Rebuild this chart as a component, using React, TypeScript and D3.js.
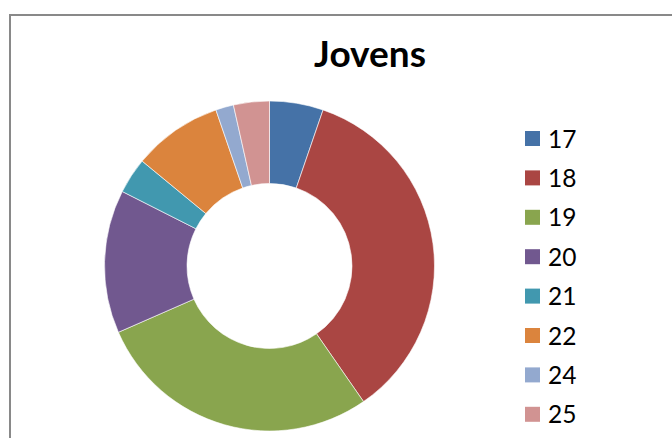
import { useEffect, useRef } from 'react'
import * as d3 from 'd3'

const ages = ['17', '18', '19', '20', '21', '22', '24', '25']
const counts = [3, 20, 16, 8, 2, 5, 1, 2]
const colors = ['#4572A7', '#AA4643', '#89A54E', '#71588F', '#4198AF', '#DB843D', '#93A9CF', '#D19392']
const title = 'Jovens'

interface Slice { age: string; count: number; color: string }

export default function App() {
  const ref = useRef<SVGSVGElement | null>(null)

  useEffect(() => {
    if (!ref.current) {return}
    const width = 672
    const height = 438
    const svg = d3.select(ref.current)
    svg.selectAll('*').remove()
    svg.attr('width', width).attr('height', height)

    const data: Slice[] = ages.map((age, i) => ({ age, count: counts[i], color: colors[i] }))

    svg.append('rect').attr('width', width).attr('height', height).attr('fill', '#fff')

    // chart area frame (cut off on the right and bottom)
    svg
      .append('rect')
      .attr('x', 10)
      .attr('y', 15)
      .attr('width', 800)
      .attr('height', 600)
      .attr('fill', 'none')
      .attr('stroke', '#898989')
      .attr('stroke-width', 2)

    svg
      .append('text')
      .attr('x', 370)
      .attr('y', 67)
      .attr('text-anchor', 'middle')
      .attr('font-family', 'Lato, "Open Sans", sans-serif')
      .attr('font-weight', 'bold')
      .attr('font-size', 37)
      .attr('fill', '#000')
      .text(title)

    const outer = 165
    const pie = d3.pie<Slice>().sort(null).value((d) => d.count)
    const arc = d3.arc<d3.PieArcDatum<Slice>>().innerRadius(outer * 0.5).outerRadius(outer)

    const root = svg.append('g').attr('transform', 'translate(269.5,266)')
    root
      .selectAll('path')
      .data(pie(data))
      .join('path')
      .attr('d', arc)
      .attr('fill', (d) => d.data.color)
      .attr('stroke', '#fff')
      .attr('stroke-width', 0.6)

    const legend = svg.append('g').attr('transform', 'translate(525,131)')
    const rows = legend
      .selectAll('g')
      .data(data)
      .join('g')
      .attr('transform', (_d, i) => `translate(0,${i * 39.4})`)
    rows
      .append('rect')
      .attr('width', 15)
      .attr('height', 15)
      .attr('fill', (d) => d.color)
    rows
      .append('text')
      .attr('x', 23)
      .attr('y', 16.5)
      .attr('font-family', 'Lato, "Open Sans", sans-serif')
      .attr('font-size', 24.5)
      .attr('fill', '#000')
      .text((d) => d.age)
  }, [])

  return (
    <svg ref={ref} style={{ position: 'absolute', left: 0, top: 0, display: 'block' }} />
  )
}
